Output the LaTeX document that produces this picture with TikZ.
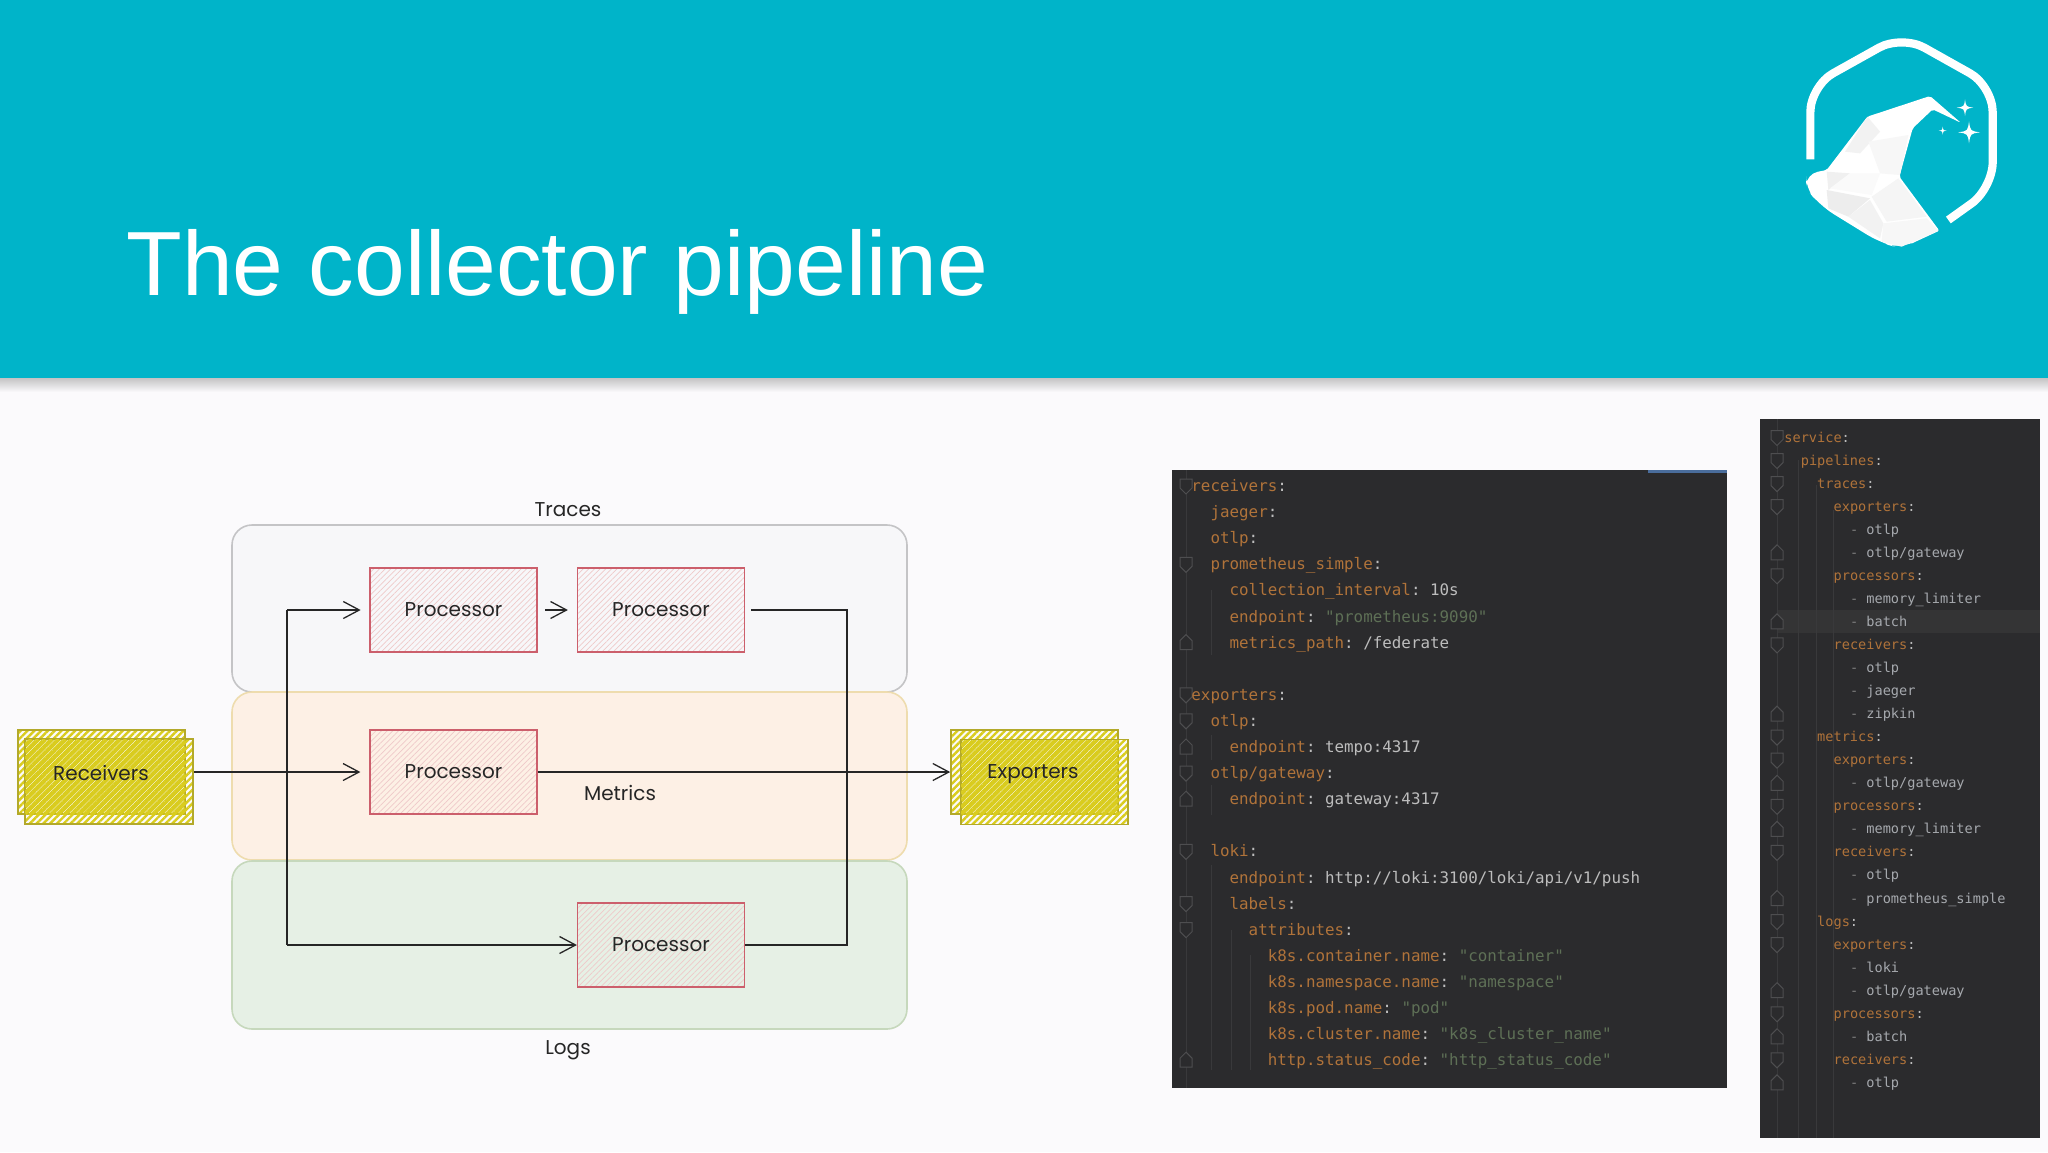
\documentclass[tikz,border=0pt]{standalone}
\usepackage{fontspec}
\usetikzlibrary{arrows.meta,patterns.meta,positioning}
\setmainfont{Liberation Sans}
\newfontfamily\sketchfont{Poppins}
\newfontfamily\codefont{DejaVu Sans Mono}[Ligatures=NoCommon]
\definecolor{headcol}{HTML}{00B4C9}
\definecolor{bgcol}{HTML}{FBFAFC}
\definecolor{panelcol}{HTML}{2B2B2D}
\definecolor{keycol}{HTML}{B0733A}
\definecolor{valcol}{HTML}{BDBDBD}
\definecolor{dashval}{HTML}{A6A9AE}
\definecolor{strcol}{HTML}{5E7056}
\definecolor{gutcol}{HTML}{4E4E50}
\definecolor{guidecol}{HTML}{39393B}
\definecolor{procline}{HTML}{CC5F6C}
\definecolor{prochatch}{HTML}{EFC9C9}
\definecolor{yelcol}{HTML}{D9CC1E}
\definecolor{yelline}{HTML}{B3A92A}
\definecolor{tracefill}{HTML}{F7F7F9}
\definecolor{traceline}{HTML}{C4C4C6}
\definecolor{metricfill}{HTML}{FDF0E5}
\definecolor{metricline}{HTML}{EEDCAE}
\definecolor{logfill}{HTML}{E6F0E5}
\definecolor{logline}{HTML}{C6D8BC}
\definecolor{tabblue}{HTML}{4A6D9C}
\newcommand{\cK}[1]{\textcolor{keycol}{#1}\textcolor{valcol}{:}}
\newcommand{\cV}[1]{\textcolor{valcol}{#1}}
\newcommand{\cS}[1]{\textcolor{strcol}{#1}}
\newcommand{\cD}[1]{\textcolor{gray}{-} \textcolor{dashval}{#1}}
\tikzset{
  x=0.5pt,y=-0.5pt,
  group/.style={rounded corners=10pt,line width=0.8pt},
  procbox/.style={draw=procline,line width=0.6pt,minimum width=83.5pt,minimum height=42pt,inner sep=0pt,
    pattern={Lines[angle=45,distance=2pt,line width=0.35pt]},pattern color=prochatch,font=\sketchfont\fontsize{10}{12}\selectfont,text=black!85},
  yellowback/.style={draw=yelline,line width=0.8pt,
    pattern={Lines[angle=45,distance=2.4pt,line width=1.2pt]},pattern color=yelcol},
  yellowover/.style={pattern={Lines[angle=45,distance=2.4pt,line width=1.2pt,yshift=1.2pt]},pattern color=yelcol},
  sketchlabel/.style={font=\sketchfont\fontsize{10}{12}\selectfont,text=black!85,inner sep=0pt},
  wire/.style={draw=black!85,line width=0.65pt},
  arrowwire/.style={wire,-{Straight Barb[length=8pt,width=8.5pt,line width=0.65pt]}},
  codeA/.style={anchor=base west,inner sep=0pt,font=\codefont\fontsize{7.93}{9}\selectfont\frenchspacing},
  codeB/.style={anchor=base west,inner sep=0pt,font=\codefont\fontsize{6.8}{8}\selectfont\frenchspacing},
  fold/.style={draw=gutcol,fill=panelcol,line width=0.5pt},
  facet/.style={draw=none},
  starfill/.style={fill=white,draw=none},
}
% open and closed fold markers of the editor gutter
\newcommand{\foldopen}[2]{\filldraw[fold] ({#1-6},{#2-7}) -- ({#1+6},{#2-7}) -- ({#1+6},{#2+2}) -- ({#1},{#2+8}) -- ({#1-6},{#2+2}) -- cycle;}
\newcommand{\foldclose}[2]{\filldraw[fold] ({#1-6},{#2+7}) -- ({#1+6},{#2+7}) -- ({#1+6},{#2-2}) -- ({#1},{#2-8}) -- ({#1-6},{#2-2}) -- cycle;}
\newcommand{\fourstar}[3]{\fill[starfill] ({#1},{#2-#3}) .. controls ({#1+.12*#3},{#2-.12*#3}) .. ({#1+#3},{#2}) .. controls ({#1+.12*#3},{#2+.12*#3}) .. ({#1},{#2+#3}) .. controls ({#1-.12*#3},{#2+.12*#3}) .. ({#1-#3},{#2}) .. controls ({#1-.12*#3},{#2-.12*#3}) .. cycle;}
\begin{document}
\begin{tikzpicture}
\useasboundingbox (0,0) rectangle (2048,1152);
\fill[bgcol] (0,0) rectangle (2048,1152);
% header
\shade[top color=black!22!bgcol,bottom color=bgcol] (0,378) rectangle (2048,392);
\fill[headcol] (0,0) rectangle (2048,378);
\node[anchor=base west,inner sep=0pt,text=white,font=\fontsize{45.6}{50}\selectfont] (title) at (126,295) {The collector pipeline};

% logo
\begin{scope}[shift={(1780,20)},x=0.16667pt,y=-0.16667pt]
  \draw[white,line width=4.1pt,rounded corners=13pt] (91,418) -- (91,198) -- (365,45) -- (638,198) -- (638,505) -- (505,600);
  \fill[white,rounded corners=1pt] (78,462) -- (140,450) -- (262,290) -- (450,228) -- (542,308) -- (458,268) -- (398,325) -- (358,470) -- (478,632) -- (400,668) [rounded corners=8pt] -- (365,686) -- (300,668) -- (120,557) [rounded corners=6pt] -- (78,505) -- cycle;
  \fill[facet,black!5] (262,290) -- (300,335) -- (240,400) -- (195,395) -- cycle;
  \fill[facet,black!3] (265,365) -- (385,345) -- (360,465) -- (300,460) -- cycle;
  \fill[facet,black!6] (140,455) -- (210,460) -- (145,510) -- cycle;
  \fill[facet,black!4] (275,530) -- (355,475) -- (440,590) -- (320,605) -- cycle;
  \fill[facet,black!7] (140,510) -- (270,535) -- (205,590) -- (145,565) -- cycle;
  \fill[facet,black!5] (205,590) -- (270,540) -- (310,610) -- (300,655) -- cycle;
  \fill[facet,black!3] (310,610) -- (440,595) -- (475,632) -- (365,680) -- (305,665) -- cycle;
  \fill[facet,black!2] (210,460) -- (300,460) -- (275,525) -- (150,505) -- cycle;
  \fourstar{555}{263}{25}
  \fourstar{567}{337}{33}
  \fourstar{488}{332}{12}
\end{scope}

% groups
\path[group,fill=tracefill,draw=traceline] (232,525) rectangle (907,692);
\path[group,fill=metricfill,draw=metricline] (232,692) rectangle (907,860);
\path[group,fill=logfill,draw=logline] (232,861) rectangle (907,1029);

\node[sketchlabel] (traces) at (568,510) {Traces};
\node[sketchlabel] (metrics) at (620,793) {Metrics};
\node[sketchlabel] (logs) at (568,1050) {Logs};

% processors
\node[procbox] (p1) at (453.5,610) {Processor};
\node[procbox] (p2) at (661,610) {Processor};
\node[procbox] (p3) at (453.5,772) {Processor};
\node[procbox] (p4) at (661,945) {Processor};

% receivers and exporters
\path[yellowback] (18,730) rectangle (185,814);
\node[yellowback,minimum width=84pt,minimum height=42.5pt,inner sep=0pt] (recv) at (109,781.5) {};
\path[yellowover] (25,739) rectangle (185,814);
\node[sketchlabel] (recvtext) at (101,773) {Receivers};

\path[yellowback] (951,730) rectangle (1118,814);
\node[yellowback,minimum width=83.5pt,minimum height=42.5pt,inner sep=0pt] (exp) at (1044.5,782) {};
\path[yellowover] (961,740) rectangle (1118,814);
\node[sketchlabel] (exptext) at (1033,774) {Exporters};

% connectors
\coordinate (split) at (287,772);
\coordinate (splitup) at (287,610);
\coordinate (splitdown) at (287,945);
\coordinate (merge) at (847,772);
\coordinate (mergeup) at (847,610);
\coordinate (mergedown) at (847,945);
\draw[wire,line width=1pt] (recv.east |- split) -- (split);
\draw[arrowwire,shorten >=4.5pt] (split) -- (p3.west);
\draw[arrowwire,shorten >=4.5pt] (splitup) -- (p1.west);
\draw[wire] (splitup) -- (splitdown);
\draw[arrowwire] (splitdown) -- (p4.west);
\draw[arrowwire,shorten <=4pt,shorten >=4.5pt] (p1.east) -- (p2.west);
\draw[wire,shorten <=3pt] (p2.east) -- (mergeup) -- (mergedown) -- (p4.east);
\draw[wire] (p3.east) -- (merge);
\draw[arrowwire,line width=1pt,shorten >=5pt] (merge) -- (merge -| exp.west);

% code panel left
\fill[panelcol] (1172,470) rectangle (1727,1088);
\fill[tabblue] (1648,470) rectangle (1727,473);
\draw[guidecol,line width=0.5pt] (1186,470) -- (1186,1088);
\draw[guidecol,line width=0.4pt] (1211,590) -- (1211,655) (1211,735) -- (1211,760) (1211,785) -- (1211,815) (1211,865) -- (1211,1070) (1231,930) -- (1231,1070) (1250,955) -- (1250,1070);
\foreach \rw in {0,3,8,9,11,14,16,17}{\foldopen{1186}{486+\rw*26.1}}
\foreach \rw in {6,10,12,22}{\foldclose{1186}{486+\rw*26.1}}
\foreach \nm/\ind/\rw/\txt in {
 a0/0/0/{\cK{receivers}},
 a1/1/1/{\cK{jaeger}},
 a2/1/2/{\cK{otlp}},
 a3/1/3/{\cK{prometheus\_simple}},
 a4/2/4/{\cK{collection\_interval} \cV{10s}},
 a5/2/5/{\cK{endpoint} \cS{"prometheus:9090"}},
 a6/2/6/{\cK{metrics\_path} \cV{/federate}},
 a8/0/8/{\cK{exporters}},
 a9/1/9/{\cK{otlp}},
 a10/2/10/{\cK{endpoint} \cV{tempo:4317}},
 a11/1/11/{\cK{otlp/gateway}},
 a12/2/12/{\cK{endpoint} \cV{gateway:4317}},
 a14/1/14/{\cK{loki}},
 a15/2/15/{\cK{endpoint} \cV{http://loki:3100/loki/api/v1/push}},
 a16/2/16/{\cK{labels}},
 a17/3/17/{\cK{attributes}},
 a18/4/18/{\cK{k8s.container.name} \cS{"container"}},
 a19/4/19/{\cK{k8s.namespace.name} \cS{"namespace"}},
 a20/4/20/{\cK{k8s.pod.name} \cS{"pod"}},
 a21/4/21/{\cK{k8s.cluster.name} \cS{"k8s\_cluster\_name"}},
 a22/4/22/{\cK{http.status\_code} \cS{"http\_status\_code"}}}{
  \node[codeA] (\nm) at ({1191+\ind*19.1},{491.5+\rw*26.1}) {\txt};
}

% code panel right
\fill[panelcol] (1760,419) rectangle (2040,1138);
\fill[white!4!panelcol] (1778,610) rectangle (2040,633);
\draw[guidecol,line width=0.5pt] (1777,419) -- (1777,1138);
\draw[guidecol,line width=0.4pt] (1798,460) -- (1798,1138) (1816,485) -- (1816,1138) (1833,510) -- (1833,1138);
\foreach \rw in {0,1,2,3,6,9,13,14,16,18,21,22,25,27}{\foldopen{1777}{437.5+\rw*23.05}}
\foreach \rw in {5,8,12,15,17,20,24,26,28}{\foldclose{1777}{437.5+\rw*23.05}}
\foreach \nm/\ind/\rw/\txt in {
 b0/0/0/{\cK{service}},
 b1/1/1/{\cK{pipelines}},
 b2/2/2/{\cK{traces}},
 b3/3/3/{\cK{exporters}},
 b4/4/4/{\cD{otlp}},
 b5/4/5/{\cD{otlp/gateway}},
 b6/3/6/{\cK{processors}},
 b7/4/7/{\cD{memory\_limiter}},
 b8/4/8/{\cD{batch}},
 b9/3/9/{\cK{receivers}},
 b10/4/10/{\cD{otlp}},
 b11/4/11/{\cD{jaeger}},
 b12/4/12/{\cD{zipkin}},
 b13/2/13/{\cK{metrics}},
 b14/3/14/{\cK{exporters}},
 b15/4/15/{\cD{otlp/gateway}},
 b16/3/16/{\cK{processors}},
 b17/4/17/{\cD{memory\_limiter}},
 b18/3/18/{\cK{receivers}},
 b19/4/19/{\cD{otlp}},
 b20/4/20/{\cD{prometheus\_simple}},
 b21/2/21/{\cK{logs}},
 b22/3/22/{\cK{exporters}},
 b23/4/23/{\cD{loki}},
 b24/4/24/{\cD{otlp/gateway}},
 b25/3/25/{\cK{processors}},
 b26/4/26/{\cD{batch}},
 b27/3/27/{\cK{receivers}},
 b28/4/28/{\cD{otlp}}}{
  \node[codeB] (\nm) at ({1784+\ind*16.4},{442+\rw*23.05}) {\txt};
}
\end{tikzpicture}
\end{document}
